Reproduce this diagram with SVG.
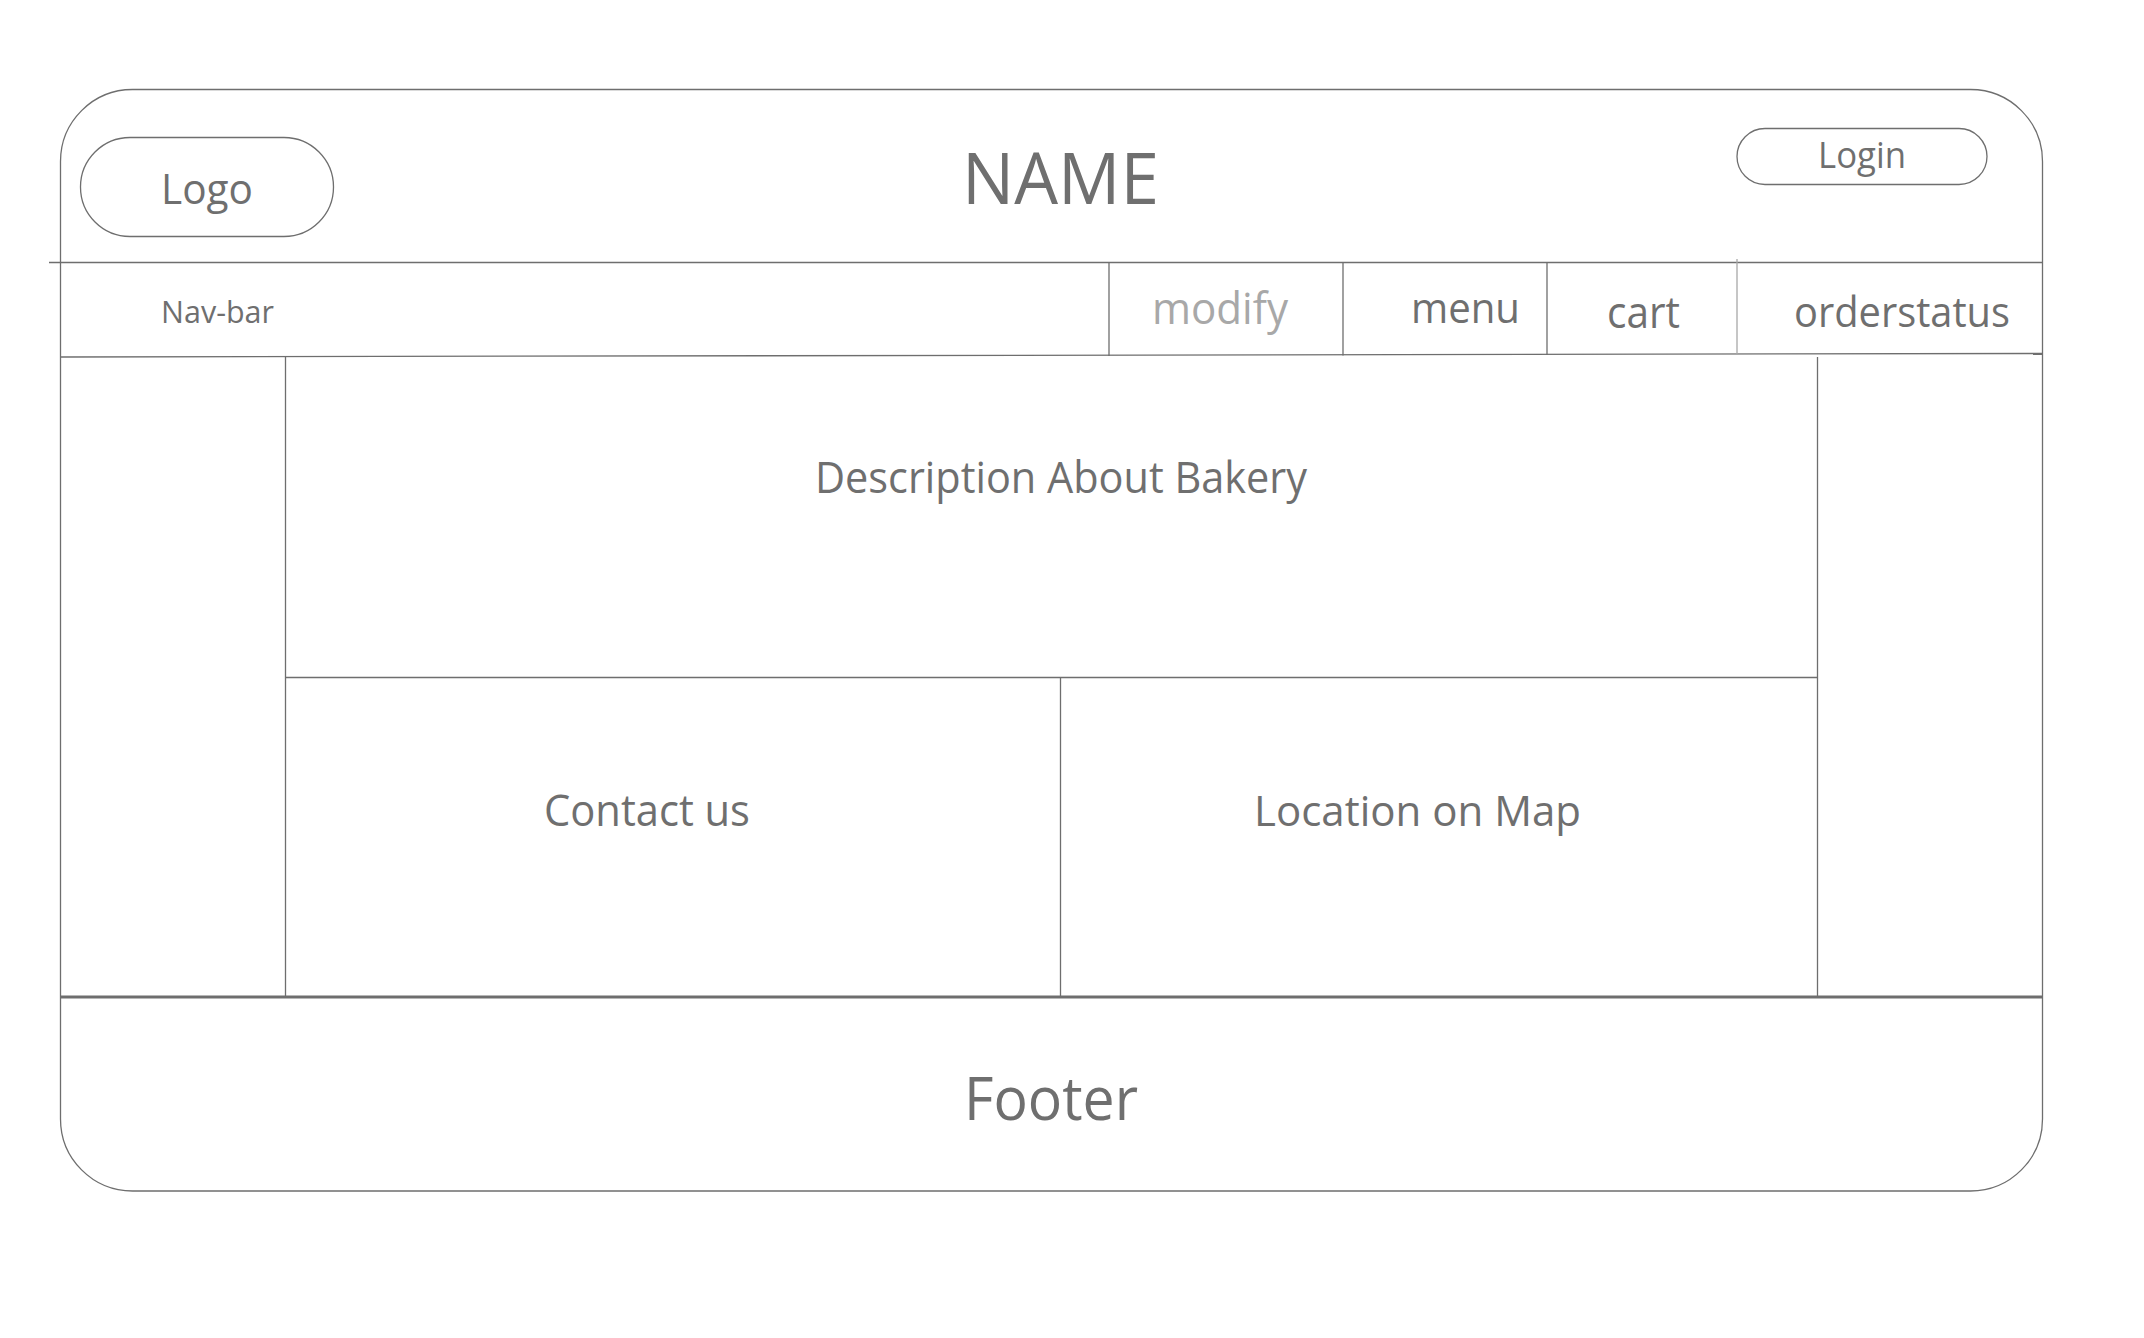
<svg xmlns="http://www.w3.org/2000/svg" width="2144" height="1338" viewBox="0 0 2144 1338">
<style>
.ln{stroke:#6e6e6e;stroke-width:1.3;fill:none}
.lt{stroke:#a8a8a8;stroke-width:1.3;fill:none}
.tx{font-family:"Open Sans","Noto Sans","DejaVu Sans",sans-serif;fill:#6f6f6f}
</style>
<rect width="2144" height="1338" fill="#ffffff"/>
<g id="frame">
<rect class="ln" x="60.5" y="89.5" width="1982" height="1101.5" rx="72" ry="72"/>
</g>
<g id="connectors">
<line class="ln" x1="49" y1="262.5" x2="2042" y2="262.5"/>
<line class="ln" x1="61" y1="357" x2="2042" y2="353.5"/>
<line class="ln" x1="285.5" y1="357" x2="285.5" y2="996"/>
<line class="ln" x1="285.5" y1="677.5" x2="1817.5" y2="677.5"/>
<line class="ln" x1="1060.5" y1="677.5" x2="1060.5" y2="996"/>
<line class="ln" x1="1817.5" y1="357" x2="1817.5" y2="996"/>
<line class="ln" x1="1109" y1="262.5" x2="1109" y2="356"/>
<line class="ln" x1="1343" y1="262.5" x2="1343" y2="355.5"/>
<line class="ln" x1="1547" y1="262.5" x2="1547" y2="355"/>
<line class="lt" x1="1737" y1="259" x2="1737" y2="354.5"/>
<line stroke="#6e6e6e" stroke-width="2.8" x1="61" y1="997" x2="2042" y2="997"/>
</g>
<g id="name">
<text class="tx" x="962" y="204" font-size="71" textLength="197" lengthAdjust="spacingAndGlyphs">NAME</text>
</g>
<g id="logo">
<rect class="ln" x="80.5" y="137.5" width="253" height="99" rx="49.5" ry="49.5"/>
<text class="tx" x="161" y="204" font-size="42" textLength="92" lengthAdjust="spacingAndGlyphs">Logo</text>
</g>
<g id="login">
<rect class="ln" x="1737" y="128.5" width="250" height="56" rx="28" ry="28"/>
<text class="tx" x="1818" y="168" font-size="36" textLength="88" lengthAdjust="spacingAndGlyphs">Login</text>
</g>
<g id="navbar">
<text class="tx" x="161" y="323" font-size="31" textLength="113" lengthAdjust="spacingAndGlyphs">Nav-bar</text>
</g>
<g id="modify">
<text class="tx" x="1152" y="324" font-size="44" style="fill:#a8a8a8" textLength="136" lengthAdjust="spacingAndGlyphs">modify</text>
</g>
<g id="menu">
<text class="tx" x="1411" y="323" font-size="42" textLength="109" lengthAdjust="spacingAndGlyphs">menu</text>
</g>
<g id="cart">
<text class="tx" x="1607" y="328" font-size="43" textLength="73" lengthAdjust="spacingAndGlyphs">cart</text>
</g>
<g id="orderstatus">
<text class="tx" x="1794" y="327" font-size="42" textLength="216" lengthAdjust="spacingAndGlyphs">orderstatus</text>
</g>
<g id="description">
<text class="tx" x="815" y="493" font-size="43" textLength="492" lengthAdjust="spacingAndGlyphs">Description About Bakery</text>
</g>
<g id="contact">
<text class="tx" x="544" y="826" font-size="43" textLength="206" lengthAdjust="spacingAndGlyphs">Contact us</text>
</g>
<g id="location">
<text class="tx" x="1254" y="826" font-size="42" textLength="327" lengthAdjust="spacingAndGlyphs">Location on Map</text>
</g>
<g id="footer">
<text class="tx" x="964" y="1120" font-size="61" textLength="174" lengthAdjust="spacingAndGlyphs">Footer</text>
</g>
</svg>
